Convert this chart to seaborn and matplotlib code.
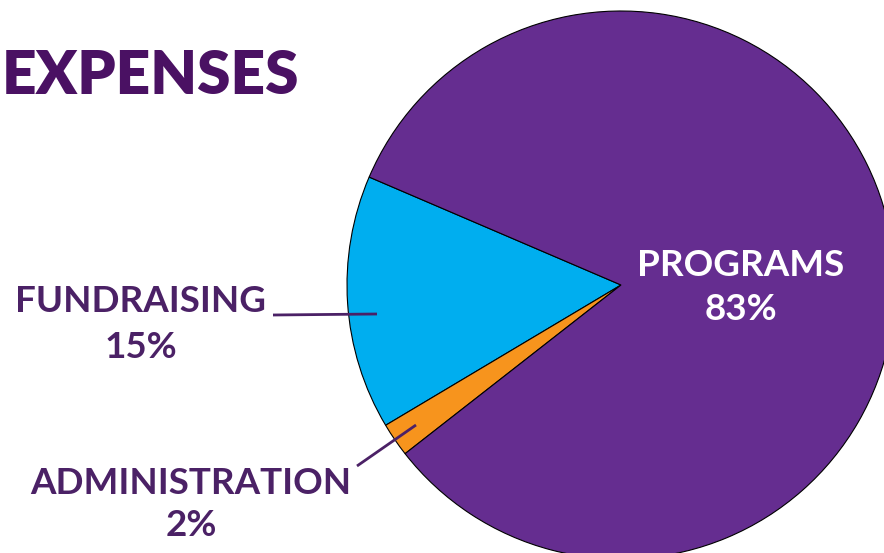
import matplotlib
matplotlib.use("Agg")
import matplotlib.pyplot as plt
import seaborn as sns

# data
categories = ["FUNDRAISING", "ADMINISTRATION", "PROGRAMS"]
shares = [15, 2, 83]
colors = ["#00AEEF", "#F7941D", "#652D90"]

sns.set_theme(style="white")
plt.rcParams["font.family"] = ["Lato", "DejaVu Sans"]

fig = plt.figure(figsize=(8.84, 5.53), dpi=100)
ax = fig.add_axes([0, 0, 1, 1])

W, H = 884, 553
cx, cy, r = 621, H - 285, 274

ax.pie(shares, colors=colors, startangle=156.8, counterclock=True,
       center=(cx, cy), radius=r,
       wedgeprops=dict(edgecolor="black", linewidth=0.8))
ax.set_xlim(0, W)
ax.set_ylim(0, H)
ax.set_aspect("equal")
ax.axis("off")

dark = "#4B2166"
fs = 26.5
ax.text(2, H - 77, "EXPENSES", fontsize=43.5, fontweight="heavy", color="#4A1163",
        ha="left", va="center")

# programs label inside
ax.text(741, H - 265, "PROGRAMS", fontsize=fs, fontweight="bold", color="white",
        ha="center", va="center")
ax.text(741, H - 310, f"{shares[2]}%", fontsize=fs, fontweight="bold", color="white",
        ha="center", va="center")

# fundraising
ax.text(141, H - 301, "FUNDRAISING", fontsize=fs, fontweight="bold", color=dark,
        ha="center", va="center")
ax.text(141, H - 347, f"{shares[0]}%", fontsize=fs, fontweight="bold", color=dark,
        ha="center", va="center")
ax.plot([273, 377], [H - 315, H - 314], color=dark, lw=2, solid_capstyle="butt")

# administration
ax.text(191, H - 484, "ADMINISTRATION", fontsize=fs, fontweight="bold", color=dark,
        ha="center", va="center")
ax.text(191, H - 526, f"{shares[1]}%", fontsize=fs, fontweight="bold", color=dark,
        ha="center", va="center")
ax.plot([357, 416], [H - 466, H - 425], color=dark, lw=2, solid_capstyle="butt")

fig.savefig("out.png", dpi=100, facecolor="white")
